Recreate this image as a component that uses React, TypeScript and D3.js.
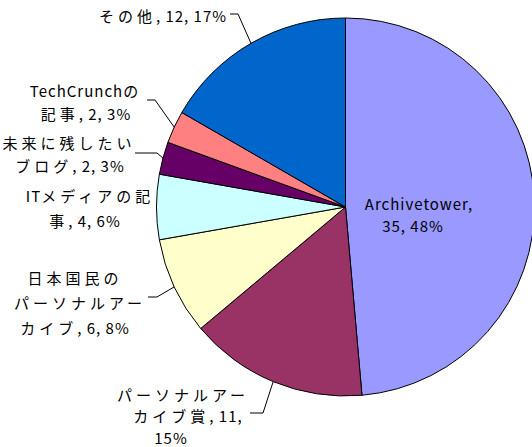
import React from "react";
import * as d3 from "d3";

const categories = [
  "Archivetower",
  "パーソナルアーカイブ賞",
  "日本国民のパーソナルアーカイブ",
  "ITメディアの記事",
  "未来に残したいブログ",
  "TechCrunchの記事",
  "その他",
];
const values = [35, 11, 6, 4, 2, 2, 12];
const percents = ["48%", "15%", "8%", "6%", "3%", "3%", "17%"];
const labelLines = [
  ["Archivetower,", "35, 48%"],
  ["パーソナルアー", "カイブ賞, 11,", "15%"],
  ["日本国民の", "パーソナルアー", "カイブ, 6, 8%"],
  ["ITメディアの記", "事, 4, 6%"],
  ["未来に残したい", "ブログ, 2, 3%"],
  ["TechCrunchの", "記事, 2, 3%"],
  ["その他, 12, 17%"],
];
const colors = ["#9999FF", "#993366", "#FFFFCC", "#CCFFFF", "#660066", "#FF8080", "#0066CC"];

// layout (label line centres and leader elbows)
const labelLayout = [
  { lines: [[419, 203], [413, 225]], elbow: null },
  { lines: [[183, 393.5], [188, 415], [171, 436.5]], elbow: [[263, 413], [250, 413]] },
  { lines: [[75, 277], [80, 302], [75, 327]], elbow: [[157, 297], [148, 297]] },
  { lines: [[90, 195], [85, 220]], elbow: null },
  { lines: [[69, 142], [70, 165]], elbow: [[157, 153], [135, 153]] },
  { lines: [[86, 90], [86, 113]], elbow: [[155, 100], [147, 100]] },
  { lines: [[163, 15]], elbow: [[238, 14], [230, 14]] },
];

const W = 532;
const H = 447;
const cx = 345.5;
const cy = 207;
const R = 189;

const CJK = /[\u3000-\u9fff\uff00-\uffef]/;
function runs(t: string) {
  return t.match(/[\u3000-\u9fff\uff00-\uffef]+|[^\u3000-\u9fff\uff00-\uffef]+/g) || [];
}

export default function App() {
  const pie = d3.pie<number>().sort(null).value((d) => d);
  const arcs = pie(values);
  const arc = d3.arc<d3.PieArcDatum<number>>().innerRadius(0).outerRadius(R);
  const edge = d3.arc<d3.PieArcDatum<number>>().innerRadius(R).outerRadius(R);

  return (
    <svg
      width={W}
      height={H}
      style={{ position: "absolute", left: 0, top: 0, background: "#fff" }}
      fontFamily="'Noto Sans CJK JP', 'Noto Sans', sans-serif"
    >
      <g transform={`translate(${cx},${cy})`}>
        {arcs.map((a, i) => (
          <path key={categories[i]} d={arc(a) || ""} fill={colors[i]} stroke="#000" strokeWidth={1} />
        ))}
      </g>
      {arcs.map((a, i) => {
        const lay = labelLayout[i];
        if (!lay.elbow) return null;
        const [ex, ey] = edge.centroid(a);
        const pts = [[cx + ex, cy + ey], ...lay.elbow];
        return (
          <polyline
            key={"l" + i}
            points={pts.map((p) => p.join(",")).join(" ")}
            fill="none"
            stroke="#000"
            strokeWidth={1}
          />
        );
      })}
      {labelLines.map((lines, i) =>
        lines.map((t, j) => (
          <text
            key={i + "-" + j}
            x={labelLayout[i].lines[j][0]}
            y={labelLayout[i].lines[j][1]}
            textAnchor="middle"
            dominantBaseline="central"
            fontSize={15}
            fill="#000"
          >
            {runs(t).map((r, k) => (
              <tspan key={k} letterSpacing={CJK.test(r) ? 4 : 1}>
                {r}
              </tspan>
            ))}
          </text>
        ))
      )}
    </svg>
  );
}
